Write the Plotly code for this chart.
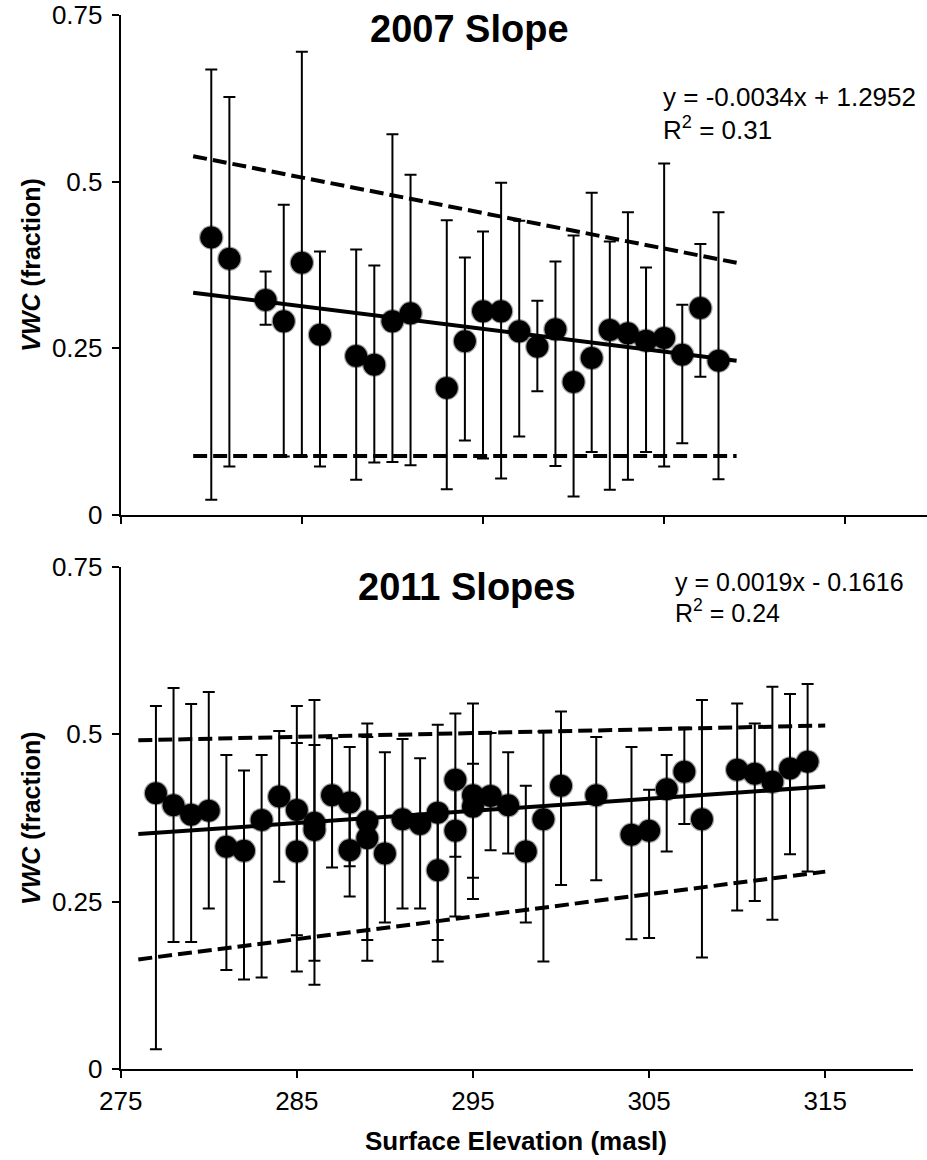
import plotly.graph_objects as go

# ---------------- data ----------------
elev_2007 = [280, 281, 283, 284, 285, 286, 288, 289, 290, 291, 293, 294, 295,
             296, 297, 298, 299, 300, 301, 302, 303, 304, 305, 306, 307, 308]
vwc_2007 = [0.416, 0.384, 0.322, 0.290, 0.378, 0.270, 0.238, 0.225, 0.290, 0.302,
            0.190, 0.260, 0.305, 0.305, 0.275, 0.252, 0.278, 0.199, 0.235, 0.277,
            0.272, 0.261, 0.265, 0.240, 0.310, 0.231]
upper_2007 = [0.668, 0.627, 0.365, 0.465, 0.695, 0.395, 0.398, 0.374, 0.571, 0.510,
              0.442, 0.386, 0.425, 0.498, 0.441, 0.321, 0.380, 0.419, 0.483, 0.410,
              0.454, 0.371, 0.527, 0.315, 0.406, 0.454]
lower_2007 = [0.022, 0.072, 0.285, 0.087, 0.087, 0.072, 0.052, 0.078, 0.079, 0.074,
              0.038, 0.111, 0.084, 0.054, 0.117, 0.185, 0.073, 0.027, 0.094, 0.037,
              0.052, 0.094, 0.072, 0.107, 0.207, 0.053]

elev_2011 = [277, 278, 279, 280, 281, 282, 283, 284, 285, 285, 286, 286, 287, 288,
             288, 289, 289, 290, 291, 292, 293, 293, 294, 294, 295, 295, 296, 297,
             298, 299, 300, 302, 304, 305, 306, 307, 308, 310, 311, 312, 313, 314]
vwc_2011 = [0.412, 0.394, 0.380, 0.386, 0.332, 0.326, 0.372, 0.407, 0.387, 0.325,
            0.368, 0.357, 0.409, 0.398, 0.327, 0.370, 0.345, 0.322, 0.373, 0.366,
            0.383, 0.297, 0.432, 0.356, 0.409, 0.392, 0.408, 0.394, 0.325, 0.373,
            0.423, 0.409, 0.350, 0.356, 0.418, 0.444, 0.373, 0.447, 0.441, 0.429,
            0.449, 0.459]
upper_2011 = [0.542, 0.569, 0.545, 0.563, 0.469, 0.446, 0.469, 0.505, 0.542, 0.487,
              0.551, 0.484, 0.494, 0.481, 0.394, 0.516, 0.496, 0.473, 0.493, 0.464,
              0.514, 0.384, 0.531, 0.424, 0.546, 0.456, 0.502, 0.473, 0.423, 0.504,
              0.534, 0.496, 0.481, 0.417, 0.469, 0.510, 0.551, 0.546, 0.516, 0.571,
              0.560, 0.575]
lower_2011 = [0.030, 0.190, 0.190, 0.240, 0.148, 0.134, 0.137, 0.280, 0.200, 0.146,
              0.126, 0.162, 0.301, 0.303, 0.258, 0.193, 0.162, 0.219, 0.240, 0.240,
              0.193, 0.161, 0.317, 0.228, 0.254, 0.286, 0.327, 0.322, 0.219, 0.161,
              0.275, 0.282, 0.194, 0.196, 0.325, 0.366, 0.167, 0.237, 0.251, 0.223,
              0.321, 0.295]

# trend line and band end points, as drawn
trend_x_2007 = [279, 309]
trend_2007 = [0.333, 0.231]
band_hi_2007 = [0.538, 0.378]
band_lo_2007 = [0.088, 0.088]

trend_x_2011 = [276, 315]
trend_2011 = [0.351, 0.422]
band_hi_2011 = [0.491, 0.513]
band_lo_2011 = [0.164, 0.295]

x_ticks = [275, 285, 295, 305, 315]
y_ticks = [0, 0.25, 0.5, 0.75]
y_ticktext = ["0", "0.25", "0.5", "0.75"]

titles = ["2007 Slope", "2011 Slopes"]
eq_lines = [("y = -0.0034x + 1.2952", "R<sup>2</sup> = 0.31"),
            ("y = 0.0019x - 0.1616", "R<sup>2</sup> = 0.24")]

# ---------------- layout helpers ----------------
W, H = 927, 1160
FONT = "Liberation Sans, Arial, Helvetica, sans-serif"


def fx(p):
    return p / W


def fy(p):
    return 1 - p / H


fig = go.Figure()

panels = [
    dict(x=elev_2007, y=vwc_2007, up=upper_2007, lo=lower_2007,
         tx=trend_x_2007, t=trend_2007, hi=band_hi_2007, bl=band_lo_2007,
         xa="x", ya="y"),
    dict(x=elev_2011, y=vwc_2011, up=upper_2011, lo=lower_2011,
         tx=trend_x_2011, t=trend_2011, hi=band_hi_2011, bl=band_lo_2011,
         xa="x2", ya="y2"),
]

for p in panels:
    for band in (p["hi"], p["bl"]):
        fig.add_trace(go.Scatter(x=p["tx"], y=band, mode="lines",
                                 line=dict(color="black", width=4, dash="14px,6px"),
                                 xaxis=p["xa"], yaxis=p["ya"], showlegend=False,
                                 hoverinfo="skip"))
    fig.add_trace(go.Scatter(x=p["tx"], y=p["t"], mode="lines",
                             line=dict(color="black", width=4),
                             xaxis=p["xa"], yaxis=p["ya"], showlegend=False,
                             hoverinfo="skip"))
    err_plus = [u - v for u, v in zip(p["up"], p["y"])]
    err_minus = [v - l for v, l in zip(p["y"], p["lo"])]
    fig.add_trace(go.Scatter(
        x=p["x"], y=p["y"], mode="markers",
        marker=dict(color="black", size=22,
                    line=dict(color="rgba(0,0,0,0.35)", width=2.5)),
        error_y=dict(type="data", symmetric=False, array=err_plus,
                     arrayminus=err_minus, color="black", thickness=2, width=6),
        xaxis=p["xa"], yaxis=p["ya"], showlegend=False))

axis_common = dict(showgrid=False, zeroline=False, showline=True, linecolor="black",
                   linewidth=2, ticks="outside", ticklen=7, tickwidth=2,
                   tickcolor="black", automargin=False,
                   tickfont=dict(family=FONT, size=26, color="black"))

top_dom = [fy(514.5), fy(15)]
bot_dom = [fy(1069.3), fy(566.7)]

fig.update_layout(
    width=W, height=H,
    margin=dict(l=0, r=0, t=0, b=0, pad=0),
    paper_bgcolor="white", plot_bgcolor="white",
    font=dict(family=FONT, color="black"),
    xaxis=dict(domain=[fx(120.7), 1.0], range=[275, 319.51], tickvals=x_ticks,
               showticklabels=False, anchor="y", **axis_common),
    yaxis=dict(domain=top_dom, range=[0, 0.75], tickvals=y_ticks,
               ticktext=y_ticktext, anchor="x", ticklabelstandoff=4, **axis_common),
    xaxis2=dict(domain=[fx(120.7), fx(913.3)], range=[275, 320], tickvals=x_ticks,
                anchor="y2", ticklabelstandoff=0, **axis_common),
    yaxis2=dict(domain=bot_dom, range=[0, 0.75], tickvals=y_ticks,
                ticktext=y_ticktext, anchor="x2", ticklabelstandoff=4, **axis_common),
)

ann = []
# panel titles
for t, (cx, cy) in zip(titles, [(469, 28.5), (467, 587)]):
    ann.append(dict(text=f"<b>{t}</b>", x=fx(cx), y=fy(cy), xref="paper",
                    yref="paper", xanchor="center", yanchor="middle",
                    showarrow=False, font=dict(family=FONT, size=38, color="black")))
# regression equations
eq_pos = [(661, 96.7, 129, 26), (672.7, 582, 611, 25)]
for (l1, l2), (lx, y1, y2, fs) in zip(eq_lines, eq_pos):
    for txt, yy in ((l1, y1), (l2, y2)):
        ann.append(dict(text=txt, x=fx(lx), y=fy(yy), xref="paper", yref="paper",
                        xanchor="left", yanchor="middle", showarrow=False,
                        font=dict(family=FONT, size=fs, color="black")))
# y-axis titles
for cy in (264.7, 818):
    ann.append(dict(text="<b><i>VWC</i> (fraction)</b>", x=fx(31), y=fy(cy),
                    xref="paper", yref="paper", xanchor="center", yanchor="middle",
                    textangle=-90, showarrow=False,
                    font=dict(family=FONT, size=25, color="black")))
# x-axis title
ann.append(dict(text="<b>Surface Elevation (masl)</b>", x=fx(516), y=fy(1141),
                xref="paper", yref="paper", xanchor="center", yanchor="middle",
                showarrow=False, font=dict(family=FONT, size=26, color="black")))

fig.update_layout(annotations=ann)

fig.write_html("out.html")
